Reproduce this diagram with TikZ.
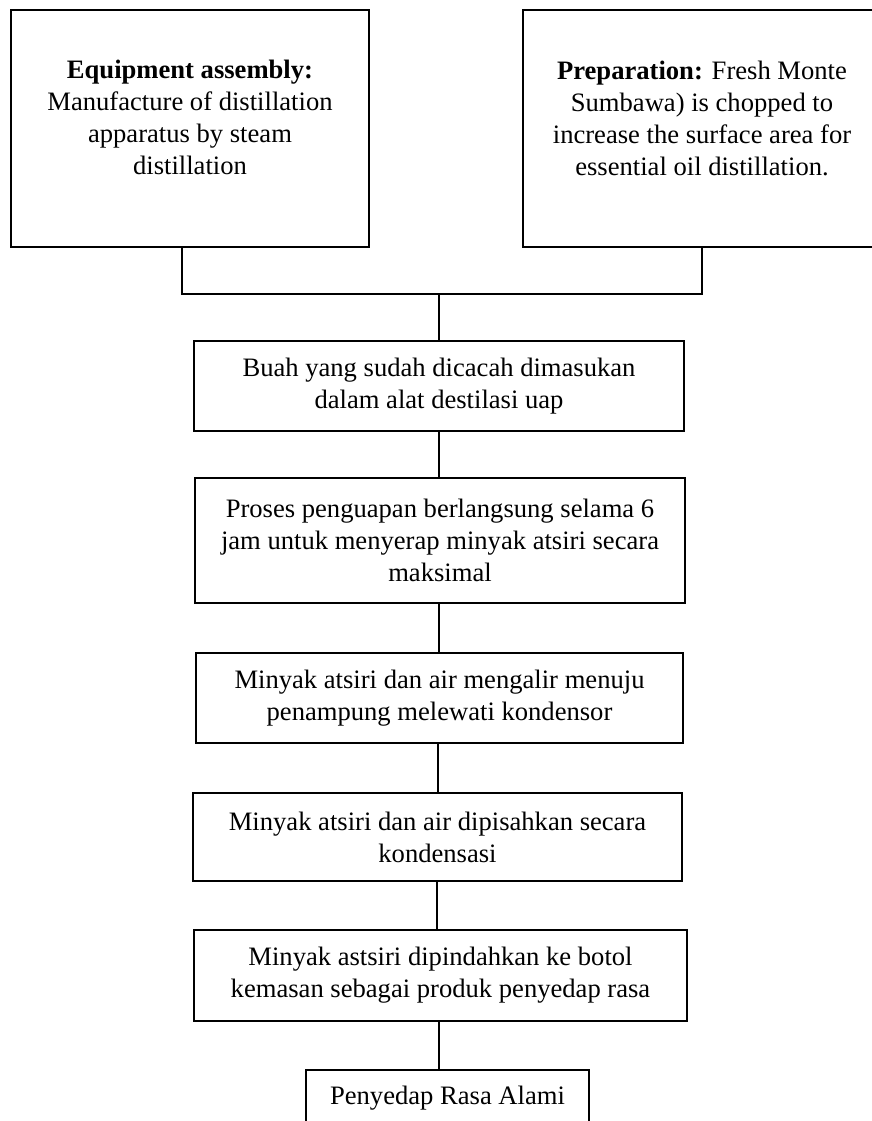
\documentclass[tikz,border=0pt]{standalone}
\usepackage{fontspec}
\setmainfont{Liberation Serif}
\begin{document}
\begin{tikzpicture}[x=1pt,y=-1pt,
  box/.style={draw=black, line width=1.2pt, inner sep=0pt, align=center},
  txt/.style={inner sep=0pt, align=center},
  conn/.style={draw=black, line width=1.2pt}]
\fontsize{26.6}{32}\selectfont
\useasboundingbox (0,0) rectangle (872,1121);
% top boxes
\node[box, minimum width=358pt, minimum height=237pt] (L) at (190,128.5) {};
\node[txt] (Lt) at (190,117) {\textbf{Equipment assembly:}\\ Manufacture of distillation\\ apparatus by steam\\ distillation};
\node[box, minimum width=358pt, minimum height=237pt] (R) at (702,128.5) {};
\node[txt] (Rt) at (702,118) {\textbf{Preparation:} Fresh Monte\\ Sumbawa) is chopped to\\ increase the surface area for\\ essential oil distillation.};
% flow boxes
\node[box, minimum width=490pt, minimum height=90pt] (B1) at (439,386) {Buah yang sudah dicacah dimasukan\\ dalam alat destilasi uap};
\node[box, minimum width=490pt, minimum height=125pt] (B2) at (440,540.5) {Proses penguapan berlangsung selama 6\\ jam untuk menyerap minyak atsiri secara\\ maksimal};
\node[box, minimum width=487pt, minimum height=90pt] (B3) at (439.5,698) {Minyak atsiri dan air mengalir menuju\\ penampung melewati kondensor};
\node[box, minimum width=489pt, minimum height=88pt] (B4) at (437.5,837) {Minyak atsiri dan air dipisahkan secara\\ kondensasi};
\node[box, minimum width=493pt, minimum height=91pt] (B5) at (440.5,975.5) {Minyak astsiri dipindahkan ke botol\\ kemasan sebagai produk penyedap rasa};
\node[box, minimum width=283pt, minimum height=56pt] (B6) at (447.5,1098) {Penyedap Rasa Alami};
% junction coordinates
\coordinate (jl) at (182,294);
\coordinate (jr) at (702,294);
\coordinate (jc) at (439,294);
\coordinate (sp) at (439,0);
\draw[conn] (L.south -| jl) -- (jl) -- (jr) -- (R.south -| jr);
\draw[conn] (jc) -- (B1.north -| jc);
\draw[conn] (B1.south -| sp) -- (B2.north -| sp);
\draw[conn] (B2.south -| sp) -- (B3.north -| sp);
\draw[conn] ([xshift=-1pt]B3.south -| sp) -- ([xshift=-1pt]B4.north -| sp);
\draw[conn] ([xshift=-2pt]B4.south -| sp) -- ([xshift=-2pt]B5.north -| sp);
\draw[conn] (B5.south -| sp) -- (B6.north -| sp);
\end{tikzpicture}
\end{document}
